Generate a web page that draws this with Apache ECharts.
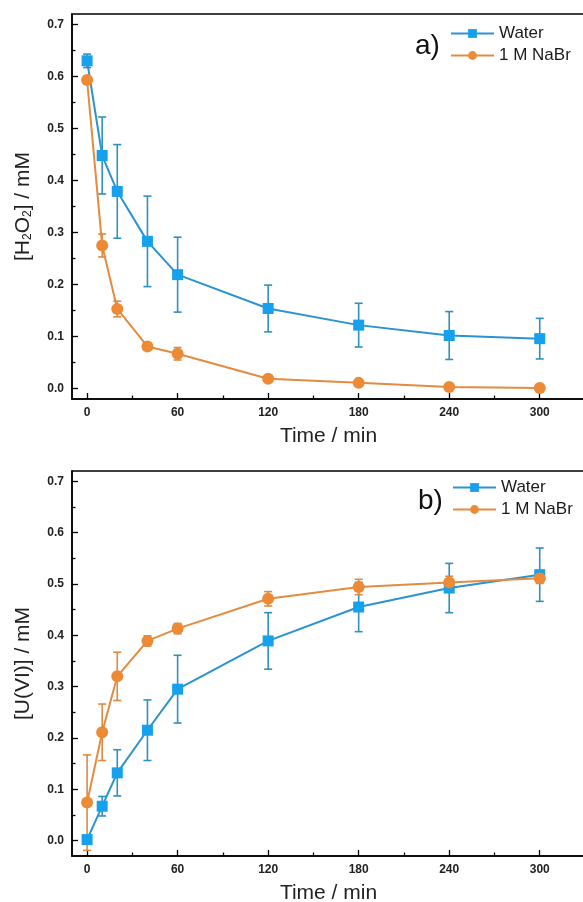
<!DOCTYPE html>
<html>
<head>
<meta charset="utf-8">
<script src="https://cdn.jsdelivr.net/npm/echarts@6/dist/echarts.min.js"></script>
<style>html,body{margin:0;padding:0;background:#fff;}#c{width:583px;height:902px;}</style>
</head>
<body>
<div id="c"></div>
<script>
const times = [0, 10, 20, 40, 60, 120, 180, 240, 300];
const h2o2Water = [0.630, 0.448, 0.379, 0.283, 0.219, 0.154, 0.122, 0.102, 0.096];
const h2o2WaterErr = [0.013, 0.074, 0.090, 0.087, 0.072, 0.045, 0.042, 0.046, 0.039];
const h2o2NaBr = [0.593, 0.275, 0.153, 0.081, 0.067, 0.019, 0.011, 0.003, 0.001];
const h2o2NaBrErr = [0.004, 0.022, 0.015, 0.006, 0.012, 0.004, 0.003, 0.002, 0.002];
const uWater = [0.002, 0.067, 0.132, 0.215, 0.295, 0.389, 0.455, 0.492, 0.518];
const uWaterErr = [0.004, 0.019, 0.045, 0.059, 0.066, 0.055, 0.048, 0.048, 0.052];
const uNaBr = [0.074, 0.211, 0.320, 0.389, 0.413, 0.471, 0.494, 0.503, 0.511];
const uNaBrErr = [0.093, 0.055, 0.047, 0.010, 0.010, 0.014, 0.015, 0.012, 0.010];
const xMajor = [0, 60, 120, 180, 240, 300];
const xMinor = [30, 90, 150, 210, 270];
const yMajor = [0, 0.1, 0.2, 0.3, 0.4, 0.5, 0.6, 0.7];
const yMinor = [0.05, 0.15, 0.25, 0.35, 0.45, 0.55, 0.65];
const seriesNames = ['Water', '1 M NaBr'];

const FONT = 'Arial, "Liberation Sans", sans-serif';
const BLUE_LINE = '#2a93d0', BLUE_MARK = '#17a0ec', BLUE_ERR = '#2f90c2';
const OR_LINE = '#e38b40', OR_MARK = '#ec8a36', OR_ERR = '#dd8a42';

const chart = echarts.init(document.getElementById('c'), null, {renderer: 'canvas'});

function pairs(ys) { return times.map((t, i) => [t, ys[i]]); }
function errData(ys, es) { return times.map((t, i) => [t, ys[i] - es[i], ys[i] + es[i]]); }

function errSeries(name, idx, ys, es, color) {
  return {
    type: 'custom', name: name, xAxisIndex: idx * 2, yAxisIndex: idx * 2,
    data: errData(ys, es), z: 2, silent: true,
    renderItem: function (params, api) {
      const x = api.value(0);
      const lo = api.coord([x, api.value(1)]);
      const hi = api.coord([x, api.value(2)]);
      const w = 4;
      const st = {stroke: color, lineWidth: 1.6, fill: null};
      return {type: 'group', children: [
        {type: 'line', shape: {x1: lo[0], y1: lo[1], x2: hi[0], y2: hi[1]}, style: st},
        {type: 'line', shape: {x1: lo[0] - w, y1: lo[1], x2: lo[0] + w, y2: lo[1]}, style: st},
        {type: 'line', shape: {x1: hi[0] - w, y1: hi[1], x2: hi[0] + w, y2: hi[1]}, style: st}
      ]};
    }
  };
}

function lineSeries(name, idx, ys, symbol, size, lineColor, markColor, z) {
  return {
    type: 'line', name: name, xAxisIndex: idx * 2, yAxisIndex: idx * 2,
    data: pairs(ys), symbol: symbol, symbolSize: size, showSymbol: true,
    lineStyle: {color: lineColor, width: 2}, itemStyle: {color: markColor},
    z: z
  };
}

function xAxes(gridIndex) {
  const base = {
    type: 'value', gridIndex: gridIndex, min: -10, max: 330, position: 'bottom', offset: 0,
    splitLine: {show: false}
  };
  return [
    Object.assign({}, base, {
      name: 'Time / min', nameLocation: 'middle', nameGap: 27,
      nameTextStyle: {fontFamily: FONT, fontSize: 21, color: '#222'},
      axisLine: {show: true, onZero: false, lineStyle: {color: '#000', width: 1.5}},
      axisTick: {show: true, inside: true, length: 6, customValues: xMajor, lineStyle: {color: '#000', width: 1.3}},
      axisLabel: {show: true, customValues: xMajor, margin: 8, fontFamily: FONT, fontSize: 12, fontWeight: 'bold', color: '#222'}
    }),
    Object.assign({}, base, {
      axisLine: {show: false, onZero: false},
      axisTick: {show: true, inside: true, length: 3.5, customValues: xMinor, lineStyle: {color: '#000', width: 1.3}},
      axisLabel: {show: false}
    })
  ];
}

function yAxes(gridIndex, ymin, nameRich) {
  const base = {
    type: 'value', gridIndex: gridIndex, min: ymin, max: 0.72, position: 'left', offset: 0,
    splitLine: {show: false}
  };
  return [
    Object.assign({}, base, {
      name: nameRich, nameLocation: 'middle', nameGap: 38, nameRotate: 90,
      nameTextStyle: {fontFamily: FONT, fontSize: 21, color: '#222',
        rich: {sub: {fontFamily: FONT, fontSize: 12, color: '#222', verticalAlign: 'bottom', padding: [10, 0, 0, 0]}}},
      axisLine: {show: true, onZero: false, lineStyle: {color: '#000', width: 1.5}},
      axisTick: {show: true, inside: true, length: 6, customValues: yMajor, lineStyle: {color: '#000', width: 1.3}},
      axisLabel: {show: true, customValues: yMajor, margin: 8, fontFamily: FONT, fontSize: 12, fontWeight: 'bold', color: '#222',
        formatter: v => v.toFixed(1)}
    }),
    Object.assign({}, base, {
      axisLine: {show: false, onZero: false},
      axisTick: {show: true, inside: true, length: 3.5, customValues: yMinor, lineStyle: {color: '#000', width: 1.3}},
      axisLabel: {show: false}
    })
  ];
}

const legendCommon = {
  orient: 'vertical', itemWidth: 43, itemHeight: 11, itemGap: 5, padding: 0,
  data: seriesNames,
  textStyle: {fontFamily: FONT, fontSize: 17, color: '#1a1a1a'},
  selectedMode: false
};

const gridCommon = {
  left: 72, width: 513, height: 385, show: true, borderColor: '#000', borderWidth: 1.5,
  backgroundColor: 'transparent', containLabel: false, outerBoundsMode: 'none'
};

const option = {
  animation: false,
  backgroundColor: '#fff',
  title: [
    {text: 'a)', left: 410, top: 27, textStyle: {fontFamily: FONT, fontSize: 28, fontWeight: 'normal', color: '#111'}},
    {text: 'b)', left: 413, top: 482, textStyle: {fontFamily: FONT, fontSize: 28, fontWeight: 'normal', color: '#111'}}
  ],
  legend: [
    Object.assign({}, legendCommon, {left: 450, top: 25}),
    Object.assign({}, legendCommon, {left: 452, top: 479})
  ],
  grid: [
    Object.assign({}, gridCommon, {top: 14}),
    Object.assign({}, gridCommon, {top: 471})
  ],
  xAxis: xAxes(0).concat(xAxes(1)),
  yAxis: yAxes(0, -0.02, '[H{sub|2}O{sub|2}] / mM').concat(yAxes(1, -0.03, '[U(VI)] / mM')),
  series: [
    errSeries('Water err a', 0, h2o2Water, h2o2WaterErr, BLUE_ERR),
    lineSeries('Water', 0, h2o2Water, 'rect', 11, BLUE_LINE, BLUE_MARK, 3),
    errSeries('NaBr err a', 0, h2o2NaBr, h2o2NaBrErr, OR_ERR),
    lineSeries('1 M NaBr', 0, h2o2NaBr, 'circle', 12, OR_LINE, OR_MARK, 4),
    errSeries('Water err b', 1, uWater, uWaterErr, BLUE_ERR),
    lineSeries('Water', 1, uWater, 'rect', 11, BLUE_LINE, BLUE_MARK, 3),
    errSeries('NaBr err b', 1, uNaBr, uNaBrErr, OR_ERR),
    lineSeries('1 M NaBr', 1, uNaBr, 'circle', 12, OR_LINE, OR_MARK, 4)
  ]
};
chart.setOption(option);
</script>
</body>
</html>
